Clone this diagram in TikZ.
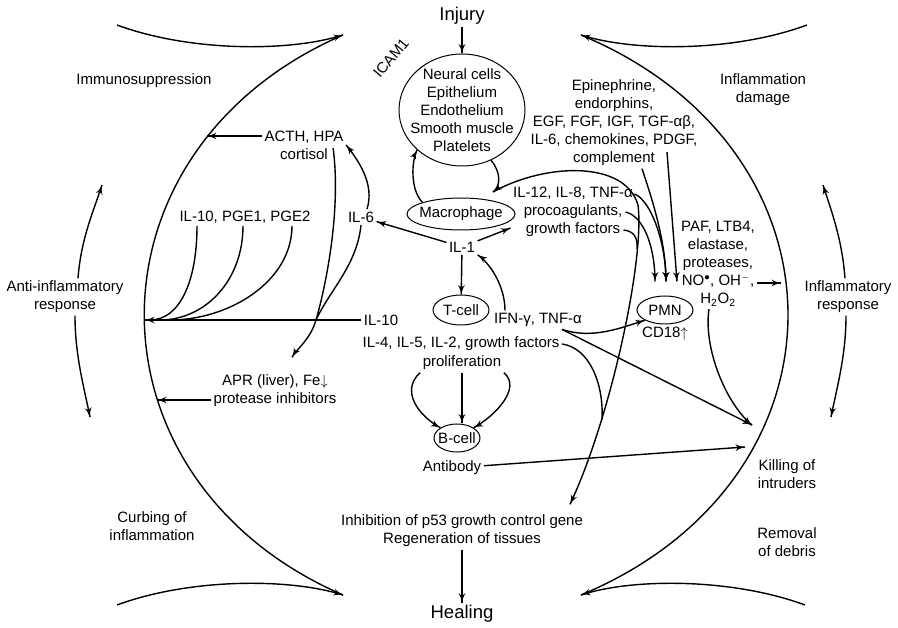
\documentclass[tikz,border=0pt]{standalone}
\usepackage{fontspec}
\setmainfont{Liberation Sans}
\usetikzlibrary{arrows}
\usetikzlibrary{decorations.markings}
\usetikzlibrary{shapes.geometric}
\tikzset{->/.style = {decoration={markings,
                                  mark=at position 0.9999 with {\arrow[scale=1.35]{latex'}}},
                      postaction={decorate}}}
\tikzset{cell/.style 2 args = {draw, ellipse, line width=1pt, inner sep=-30pt,
                               minimum width=#1, minimum height=#2}}
\tikzset{lbl/.style = {font=\fontsize{15}{18}\selectfont, align=center, inner sep=2pt}}
\tikzset{big/.style = {font=\fontsize{18.5}{22}\selectfont}}

\begin{document}
\begin{tikzpicture}[x=1pt, y=-1pt, line width=1.4pt, every node/.style={lbl}]
    \useasboundingbox (0,0) rectangle (898,628);

    % centre column
    \node [big] (injury) at (462,16) {Injury};
    \node [cell={126pt}{112pt}] (cells) at (462,110) {};
    \node (celltext) at (cells.center)
      {Neural cells\\Epithelium\\Endothelium\\Smooth muscle\\Platelets};
    \node [rotate=50, inner sep=0pt] (icam) at (391,58) {ICAM1};
    \node [cell={108pt}{32pt}] (macro) at (461,214) {Macrophage};
    \node (il1) at (462,247) {IL-1};
    \node [cell={56pt}{30pt}] (tcell) at (461,310) {T-cell};
    \node (ifn) at (538,320) {IFN-γ, TNF-α};
    \node (il10) at (381,320) {IL-10};
    \node (il4) at (461,344) {IL-4, IL-5, IL-2, growth factors};
    \node (prolif) at (462,363) {proliferation};
    \node [cell={46pt}{28pt}] (bcell) at (457,438) {B-cell};
    \node (antibody) at (452,468) {Antibody};
    \node (regen) at (462,531) {Inhibition of p53 growth control gene\\Regeneration of tissues};
    \node [big] (healing) at (462,614) {Healing};

    % left half
    \node (immuno) at (144,81) {Immunosuppression};
    \node (acth) at (304,145) {ACTH, HPA\\cortisol};
    \node (pge) at (245,217) {IL-10, PGE1, PGE2};
    \node (il6) at (361,217) {IL-6};
    \node (antiinf) at (65,297) {Anti-inflammatory\\response};
    \node (apr) at (275,391) {APR (liver), Fe$\downarrow$\\protease inhibitors};
    \node (curbing) at (152,526) {Curbing of\\inflammation};

    % right half
    \node (damage) at (763,90) {Inflammation\\damage};
    \node (epi) at (614,123)
      {Epinephrine,\\endorphins,\\EGF, FGF, IGF, TGF-αβ,\\IL-6, chemokines, PDGF,\\complement};
    \node (il12) at (573,212) {IL-12, IL-8, TNF-α\\procoagulants,\\growth factors};
    \node [cell={56pt}{28pt}] (pmn) at (665,310) {PMN};
    \node (cd18) at (665,334) {CD18$\uparrow$};
    \node (paf) at (718,264)
      {PAF, LTB4,\\elastase,\\proteases,\\NO$^{\bullet}$, OH$^{-}$,\\H\textsubscript{2}O\textsubscript{2}};
    \node (inflresp) at (848,297) {Inflammatory\\response};
    \node (killing) at (787,474) {Killing of\\intruders};
    \node (removal) at (787,542) {Removal\\of debris};

    % points on the arcs and junctions
    \coordinate (tl) at (343,35);
    \coordinate (tr) at (581,35);
    \coordinate (bl) at (343,595);
    \coordinate (br) at (581,595);
    \coordinate (arca) at (207,136);
    \coordinate (arcc) at (145,320);
    \coordinate (arcb) at (157,400);
    \coordinate (noend) at (781,283);
    \coordinate (immup) at (102,185);
    \coordinate (curbdn) at (90,417);
    \coordinate (damup) at (823,185);
    \coordinate (killdn) at (831,417);
    \coordinate (cusp) at (493,192);
    \coordinate (macbend) at (638,205);
    \coordinate (gfjoin) at (637,249);
    \coordinate (iljoin) at (602,420);
    \coordinate (jl) at (316,320);
    \coordinate (aprin) at ([shift={(17,-15)}]apr.north);
    \coordinate (inh) at ([shift={(108,-8)}]regen.north);
    \coordinate (pmnl) at ([shift={(-10,-14)}]pmn.north);
    \coordinate (pmnm) at ([shift={(1,-14)}]pmn.north);
    \coordinate (pmnr) at ([shift={(12,-14)}]pmn.north);
    \coordinate (killa) at ([shift={(-35,-49)}]killing.center);
    \coordinate (killb) at ([shift={(-42,-27)}]killing.center);
    \coordinate (ifnout) at ([xshift=24pt]ifn.south);

    % the two big lenses
    \draw [->] (117,25) .. controls (190,52) and (290,52) .. (tl);
    \draw (tl) .. controls (78,150) and (78,480) .. (bl);
    \draw [->] (117,605) .. controls (190,578) and (290,578) .. (bl);
    \draw [->] (807,25) .. controls (734,52) and (634,52) .. (tr);
    \draw (tr) .. controls (857,150) and (857,480) .. (br);
    \draw [->] (805,605) .. controls (732,578) and (632,578) .. (br);

    % centre
    \draw [->] (injury) -- (cells);
    \draw [->] (macro.north west) .. controls +(-12,-12) and +(-6,12) .. (cells.south west);
    \draw [->] (cells.300) .. controls +(10,12) and +(8,-6) .. (cusp);
    \draw [->] (cusp) .. controls (545,163) and (625,160) .. (macbend)
               .. controls (645,260) and (610,420) .. (inh);
    \draw ([shift={(-12,18)}]il12.east) .. controls +(10,1) and +(1,-12) .. (gfjoin);
    \draw (il4.east) .. controls +(28,4) and +(2,-35) .. (iljoin);
    \draw [->] ([shift={(-1,-18)}]il12.east) .. controls +(16,6) and +(0,-40) .. (pmnm);
    \draw [->] ([xshift=-10pt]il12.east) .. controls +(18,4) and +(0,-35) .. (pmnl);
    \draw [->] ([xshift=28pt]epi.south) .. controls +(10,30) and +(0,-40) .. (pmnm);
    \draw [->] ([shift={(53,29)}]epi.center) -- (pmnr);
    \draw [->] (il1) -- (il6);
    \draw [->] (il1) -- ([yshift=-16pt]il12.west);
    \draw [->] (il1) -- (tcell);
    \draw [->] ([xshift=-33pt]ifn.north) .. controls +(0,-25) and +(12,8) .. (il1.south east);
    \draw [->] (ifnout) .. controls +(30,10) and +(-25,8) .. (pmn.south west);
    \draw [->] (ifnout) -- (killa);
    \draw [->] ([xshift=-9pt]paf.south) .. controls +(-6,40) and +(-25,-20) .. (killa);
    \draw [->] (antibody) -- (killb);
    \draw [->] ([shift={(39,19)}]paf.center) -- (noend);
    \draw [->] (prolif) -- (prolif.south |- bcell.north);
    \draw [->] (prolif.south west) .. controls +(-20,18) and +(-22,-12) .. (bcell.north west);
    \draw [->] (prolif.south east) .. controls +(18,15) and +(22,-12) .. (bcell.north east);
    \draw [->] (regen) -- (healing);

    % left
    \draw [->] ([yshift=9pt]acth.west) -- (arca);
    \draw [->] (il10.west) -- (arcc);
    \draw ([xshift=-48pt]pge.south) .. controls +(0,55) and +(30,0) .. ([xshift=5pt]arcc);
    \draw ([xshift=-2pt]pge.south) .. controls +(0,55) and +(45,0) .. ([xshift=15pt]arcc);
    \draw ([xshift=47pt]pge.south) .. controls +(0,55) and +(60,0) .. ([xshift=25pt]arcc);
    \draw [->] ([shift={(-13,3)}]acth.east) .. controls +(9,70) and +(6,-20) .. (jl)
               .. controls +(-6,20) and +(6,-10) .. (aprin);
    \draw (il6.south) .. controls +(-4,40) and +(14,-30) .. (jl);
    \draw [->] ([xshift=6pt]il6.north) .. controls +(8,-25) and +(12,15) .. (acth.east);
    \draw [->] ([yshift=-9pt]apr.west) -- (arcb);

    % cycle arrows
    \draw [->] ([xshift=13pt]antiinf.north) .. controls +(3,-40) and +(-8,25) .. (immup);
    \draw [->] ([xshift=10pt]antiinf.south) .. controls +(0,40) and +(-6,-30) .. (curbdn);
    \draw [->] ([xshift=-3pt]inflresp.north) .. controls +(-3,-40) and +(8,25) .. (damup);
    \draw [->] ([xshift=-2pt]inflresp.south) .. controls +(0,40) and +(6,-30) .. (killdn);
\end{tikzpicture}
\end{document}
